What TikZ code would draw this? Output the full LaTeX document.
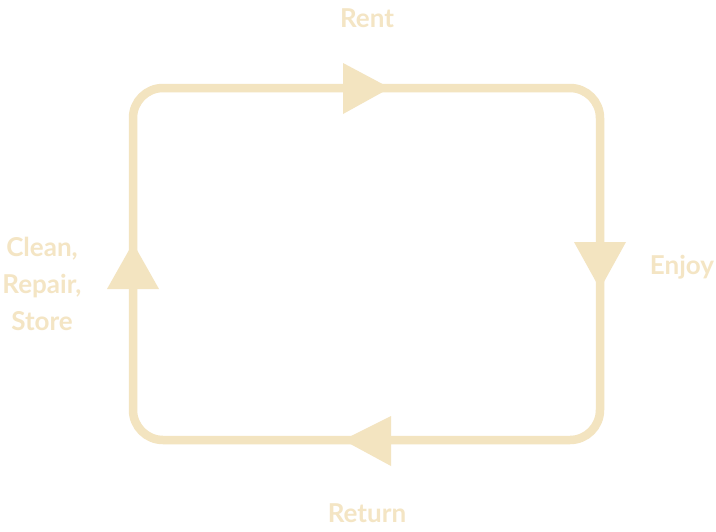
\documentclass[tikz,border=0pt]{standalone}
\usepackage{fontspec}
\setmainfont{Lato}
\definecolor{cyc}{HTML}{F3E4C0}
\definecolor{cyctext}{HTML}{F4E5C4}
\begin{document}
\begin{tikzpicture}[x=1pt,y=-1pt,
  loopline/.style={draw=cyc,line width=8.5pt,rounded corners=30pt},
  tri/.style={fill=cyc,draw=none},
  lbl/.style={text=cyctext,font=\fontsize{26}{37}\selectfont\bfseries,align=center,inner sep=0pt}]
\useasboundingbox (0,0) rectangle (716,531);
\fill[white] (0,0) rectangle (716,531);
\draw[loopline] (133,88) rectangle (600,440);
% triangles
\fill[tri] (343,63) -- (390,88) -- (343,114) -- cycle;
\fill[tri] (574,242) -- (626,242) -- (600,289) -- cycle;
\fill[tri] (391,416) -- (391,466) -- (343,440) -- cycle;
\fill[tri] (107,289) -- (159,289) -- (133,243) -- cycle;
% labels
\node[lbl] (rent) at (367,18) {Rent};
\node[lbl] (enjoy) at (682,267) {Enjoy};
\node[lbl] (ret) at (367,513) {Return};
\node[lbl] (clean) at (42,284) {Clean,\\Repair,\\Store};
\end{tikzpicture}
\end{document}
